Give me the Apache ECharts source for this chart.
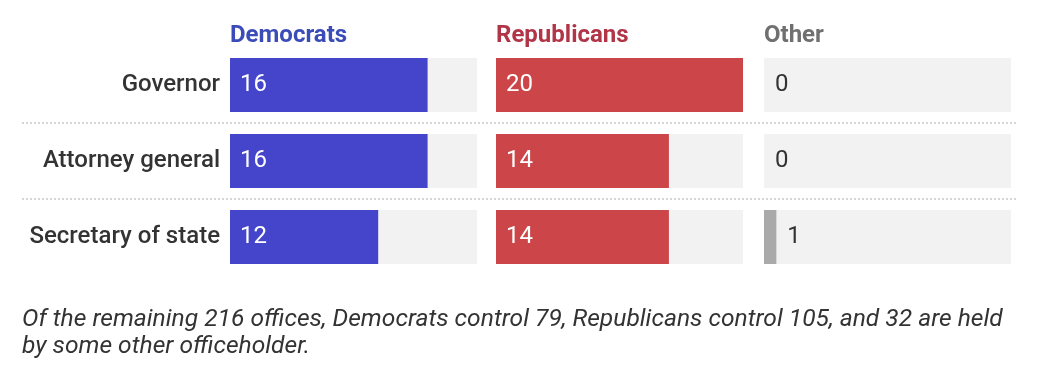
<!DOCTYPE html>
<html><head><meta charset="utf-8">
<script src="https://cdn.jsdelivr.net/npm/echarts@6/dist/echarts.min.js"></script>
<style>html,body{margin:0;padding:0;background:#fff}#c{width:1040px;height:390px}</style>
</head><body><div id="c"></div>
<script>
const offices = ['Governor', 'Attorney general', 'Secretary of state'];
const parties = ['Democrats', 'Republicans', 'Other'];
const democrats = [16, 16, 12];
const republicans = [20, 14, 14];
const other = [0, 0, 1];
const axisMax = 20;
const footnote = 'Of the remaining 216 offices, Democrats control 79, Republicans control 105, and 32 are held\nby some other officeholder.';

const seriesValues = [democrats, republicans, other];
const barColors = ['#4545cc', '#cc4548', '#aaaaaa'];
const headColors = ['#3b4cb8', '#b13447', '#707070'];
const labelColors = ['#ffffff', '#ffffff', '#333333'];
const panelLeft = [230, 496, 764];
const panelWidth = 247;
const gridTop = 47, rowStep = 76, barH = 54;
const gridHeight = rowStep * offices.length;
const FONT = 'Roboto';

const grids = [], xAxes = [], yAxes = [], series = [], titles = [];
parties.forEach((p, i) => {
  grids.push({left: panelLeft[i], top: gridTop, width: panelWidth, height: gridHeight});
  xAxes.push({type: 'value', gridIndex: i, min: 0, max: axisMax, show: false});
  yAxes.push({
    type: 'category', gridIndex: i, data: offices, inverse: true,
    axisLine: {show: false}, axisTick: {show: false}, splitLine: {show: false},
    axisLabel: {show: i === 0, margin: 10, fontFamily: FONT, fontSize: 24, fontWeight: 500, color: '#333'}
  });
  series.push({
    type: 'bar', name: p, xAxisIndex: i, yAxisIndex: i,
    data: seriesValues[i], barWidth: barH,
    itemStyle: {color: barColors[i]},
    showBackground: true, backgroundStyle: {color: '#f2f2f2'},
    label: {
      show: true, position: i === 2 ? 'right' : 'insideLeft', distance: i === 2 ? 11 : 10,
      fontFamily: FONT, fontSize: 24, color: labelColors[i]
    },
    silent: true, animation: false
  });
  titles.push({
    text: p, left: panelLeft[i], top: 24, padding: 0,
    textStyle: {fontFamily: FONT, fontSize: 24, fontWeight: 'bold', color: headColors[i]}
  });
});
titles.push({
  text: footnote, left: 22, top: 306, padding: 0,
  textStyle: {fontFamily: FONT, fontSize: 24.6, fontStyle: 'italic', fontWeight: 'normal', color: '#333', lineHeight: 27}
});

const graphics = [];
for (let k = 1; k < offices.length; k++) {
  const y = gridTop + rowStep * k;
  graphics.push({
    type: 'line', shape: {x1: 22, y1: y, x2: 1018, y2: y},
    style: {stroke: '#d6d6d6', lineWidth: 2, lineDash: [2, 2]}, silent: true
  });
}

const chart = echarts.init(document.getElementById('c'), null, {renderer: 'canvas'});
chart.setOption({
  animation: false,
  backgroundColor: '#ffffff',
  title: titles,
  grid: grids, xAxis: xAxes, yAxis: yAxes, series: series,
  graphic: graphics
});
</script></body></html>
